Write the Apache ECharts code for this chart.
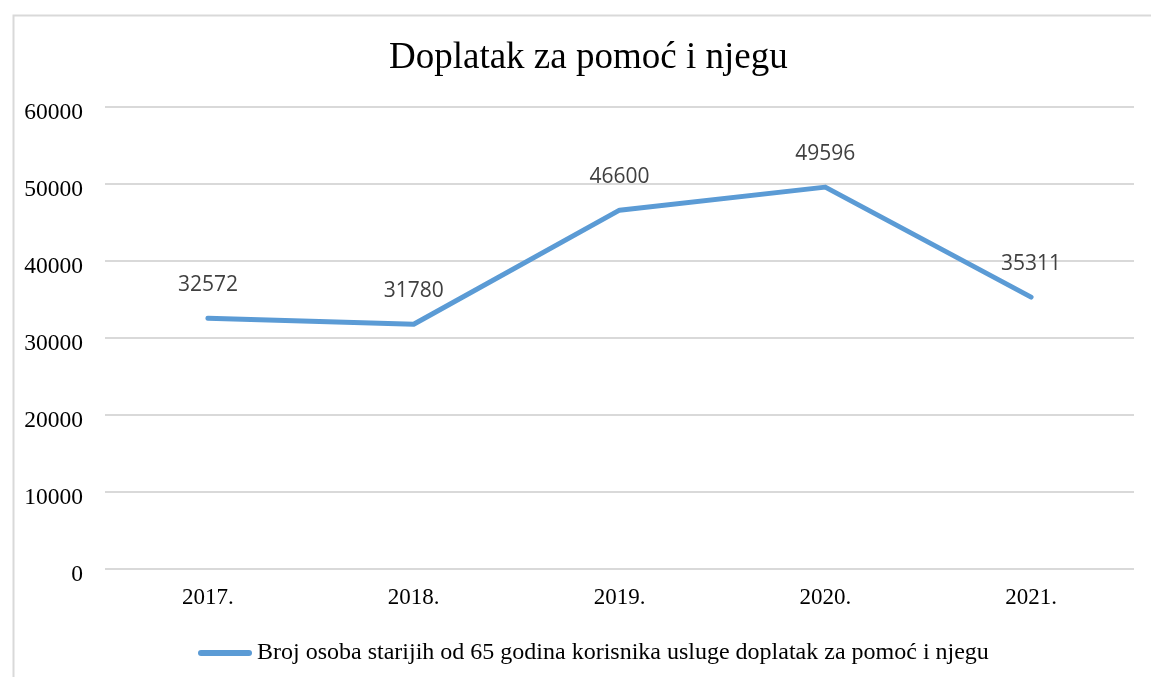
<!DOCTYPE html>
<html>
<head>
<meta charset="utf-8">
<script src="https://cdn.jsdelivr.net/npm/echarts@6/dist/echarts.min.js"></script>
<style>html,body{margin:0;padding:0;background:#fff;}#c{width:1151px;height:677px;}</style>
</head>
<body>
<div id="c"></div>
<script>
const titleText = 'Doplatak za pomoć i njegu';
const categories = ['2017.', '2018.', '2019.', '2020.', '2021.'];
const seriesName = 'Broj osoba starijih od 65 godina korisnika usluge doplatak za pomoć i njegu';
const values = [32572, 31780, 46600, 49596, 35311];
const yTicks = [0, 10000, 20000, 30000, 40000, 50000, 60000];

const serif = '"Liberation Serif", "Times New Roman", serif';
const chart = echarts.init(document.getElementById('c'), null, {renderer: 'canvas'});
chart.setOption({
  backgroundColor: '#ffffff',
  animation: false,
  graphic: [{
    type: 'rect', left: 11, top: 13, z: -1,
    shape: {width: 1400, height: 900},
    style: {fill: 'none', stroke: '#d9d9d9', lineWidth: 2}
  }],
  title: {
    text: titleText, left: 384, top: 35,
    textStyle: {fontFamily: serif, fontSize: 37, fontWeight: 'normal', color: '#000'}
  },
  legend: {
    left: 193, top: 636,
    itemWidth: 54, itemHeight: 6, itemGap: 5,
    textStyle: {fontFamily: serif, fontSize: 24, color: '#000'},
    data: [{name: seriesName, icon: 'path://M3,0 L51,0 A3,3 0 0 1 51,6 L3,6 A3,3 0 0 1 3,0 Z'}]
  },
  grid: {left: 105, right: 17, top: 107, bottom: 108},
  xAxis: {
    type: 'category', data: categories, boundaryGap: true,
    axisLine: {show: false}, axisTick: {show: false},
    axisLabel: {fontFamily: serif, fontSize: 23, color: '#000', margin: 17}
  },
  yAxis: {
    type: 'value', min: 0, max: 60000, interval: 10000,
    axisLine: {show: false}, axisTick: {show: false},
    axisLabel: {color: '#000', margin: 22,
      formatter: v => yTicks.includes(v) ? '{v|' + v + '}' : '',
      rich: {v: {fontFamily: serif, fontSize: 23.5, color: '#000', padding: [12, 0, 0, 0]}}},
    splitLine: {lineStyle: {color: '#d9d9d9', width: 2}}
  },
  series: [{
    name: seriesName, type: 'line', data: values,
    symbol: 'circle', symbolSize: 0, showSymbol: true,
    lineStyle: {color: '#5b9bd5', width: 5, cap: 'round', join: 'round'},
    itemStyle: {color: '#5b9bd5'},
    label: {show: true, position: 'top', distance: 23,
      fontFamily: '"Open Sans", "Liberation Sans", sans-serif', fontSize: 21, color: '#404040'}
  }]
});
</script>
</body>
</html>
